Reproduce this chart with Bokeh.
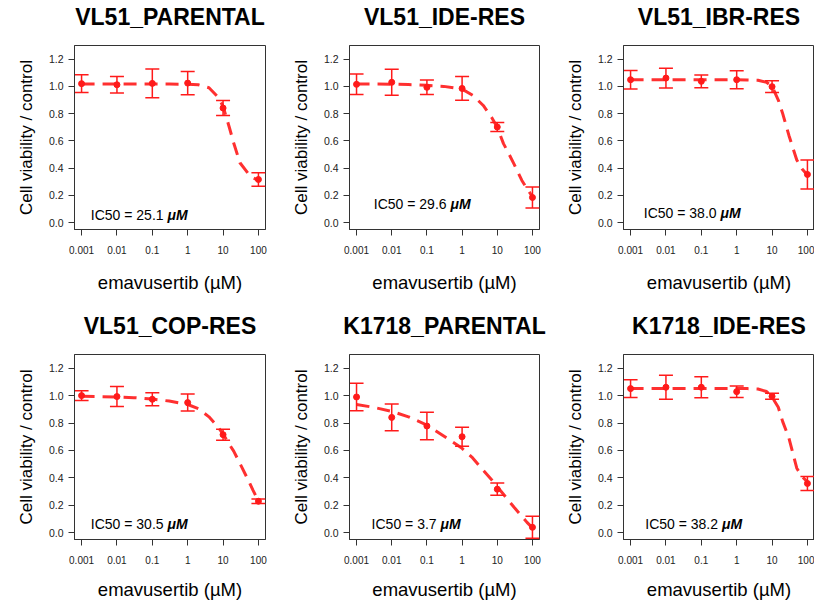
from bokeh.plotting import figure
from bokeh.layouts import column, row
from bokeh.models import (Range1d, FixedTicker, CustomJSTickFormatter, NumeralTickFormatter,
                          Whisker, TeeHead, ColumnDataSource, LogAxis)
from bokeh.core.properties import value
from bokeh.embed import file_html
from bokeh.resources import INLINE

# ---------------- data ----------------
titles = ["VL51_PARENTAL", "VL51_IDE-RES", "VL51_IBR-RES",
          "VL51_COP-RES", "K1718_PARENTAL", "K1718_IDE-RES"]
ic50_text = ["25.1", "29.6", "38.0", "30.5", "3.7", "38.2"]

doses = [0.001, 0.01, 0.1, 1, 10, 100]
dose_labels = ["0.001", "0.01", "0.1", "1", "10", "100"]
y_ticks = [0.0, 0.2, 0.4, 0.6, 0.8, 1.0, 1.2]

mean_vl51_parental = [1.020, 1.012, 1.022, 1.024, 0.841, 0.317]
err_vl51_parental  = [0.065, 0.060, 0.105, 0.085, 0.055, 0.050]
mean_vl51_ide      = [1.015, 1.030, 0.993, 0.985, 0.702, 0.185]
err_vl51_ide       = [0.075, 0.095, 0.053, 0.087, 0.033, 0.077]
mean_vl51_ibr      = [1.049, 1.061, 1.037, 1.049, 0.998, 0.354]
err_vl51_ibr       = [0.068, 0.073, 0.047, 0.066, 0.043, 0.106]
mean_vl51_cop      = [1.000, 0.993, 0.973, 0.949, 0.715, 0.229]
err_vl51_cop       = [0.035, 0.073, 0.047, 0.062, 0.040, 0.016]
mean_k1718_parental = [0.990, 0.841, 0.778, 0.700, 0.317, 0.039]
err_k1718_parental  = [0.100, 0.098, 0.100, 0.070, 0.045, 0.080]
mean_k1718_ide     = [1.051, 1.061, 1.061, 1.029, 0.995, 0.359]
err_k1718_ide      = [0.065, 0.088, 0.077, 0.042, 0.022, 0.051]

# fitted dose-response curves
fit_x = [0.001, 0.003, 0.01, 0.03, 0.1, 0.3, 1, 2, 4, 7, 10, 15, 20, 30, 50, 70, 100]
fit_vl51_parental = [1.017, 1.017, 1.017, 1.017, 1.017, 1.017, 1.016, 1.012, 0.990, 0.925,
                     0.855, 0.700, 0.585, 0.440, 0.365, 0.330, 0.310]
fit_vl51_ide = [1.017, 1.017, 1.016, 1.013, 1.008, 1.000, 0.980, 0.935, 0.860, 0.770,
                0.700, 0.580, 0.520, 0.430, 0.310, 0.250, 0.190]
fit_vl51_ibr = [1.048, 1.048, 1.048, 1.048, 1.048, 1.048, 1.048, 1.047, 1.045, 1.030,
                1.000, 0.900, 0.800, 0.640, 0.460, 0.395, 0.350]
fit_vl51_cop = [0.995, 0.993, 0.990, 0.985, 0.975, 0.960, 0.935, 0.905, 0.845, 0.775,
                0.720, 0.645, 0.595, 0.505, 0.390, 0.310, 0.230]
fit_k1718_parental = [0.935, 0.915, 0.885, 0.845, 0.785, 0.705, 0.615, 0.545, 0.455, 0.385,
                      0.335, 0.280, 0.240, 0.185, 0.120, 0.075, 0.035]
fit_k1718_ide = [1.052, 1.052, 1.052, 1.052, 1.052, 1.052, 1.052, 1.051, 1.048, 1.030,
                 0.990, 0.915, 0.810, 0.690, 0.470, 0.410, 0.370]

means = [mean_vl51_parental, mean_vl51_ide, mean_vl51_ibr,
         mean_vl51_cop, mean_k1718_parental, mean_k1718_ide]
errs = [err_vl51_parental, err_vl51_ide, err_vl51_ibr,
        err_vl51_cop, err_k1718_parental, err_k1718_ide]
fits = [fit_vl51_parental, fit_vl51_ide, fit_vl51_ibr,
        fit_vl51_cop, fit_k1718_parental, fit_k1718_ide]

# ---------------- layout / style (not data) ----------------
FONT = "Liberation Sans"
RED = "#ff1a1a"
AX = "#333333"
X_LO, X_HI = 10 ** -3.2, 10 ** 2.2
Y_LO, Y_HI = -0.05, 1.30
label_anchor = [(0.27, 0.056), (0.47, 0.137), (0.35, 0.069),
                (0.27, 0.061), (0.245, 0.066), (0.385, 0.061)]

col_w = [275, 274, 265]
col_left = [74, 74, 74]
col_right = [10, 10, 0]
row_h = [300, 305]
row_top = [45, 54]
row_bottom = [71, 66]


def make_panel(i):
    r, c = divmod(i, 3)
    p = figure(width=col_w[c], height=row_h[r], x_axis_type="log",
               x_range=Range1d(X_LO, X_HI), y_range=Range1d(Y_LO, Y_HI),
               output_backend="svg", toolbar_location=None,
               min_border_left=col_left[c], min_border_right=col_right[c],
               min_border_top=row_top[r], min_border_bottom=row_bottom[r])
    xa = p.below[0]
    ya = p.left[0]

    p.grid.visible = False
    p.outline_line_color = AX
    p.outline_line_width = 1
    p.background_fill_color = "white"
    p.border_fill_color = "white"

    for ax in (xa, ya):
        ax.axis_line_color = AX
        ax.major_tick_line_color = AX
        ax.minor_tick_line_color = None
        ax.major_tick_out = 6
        ax.major_tick_in = 0
        ax.major_label_text_font = FONT
        ax.major_label_text_color = "#222222"
        ax.axis_label_text_font = FONT
        ax.axis_label_text_font_style = "normal"
        ax.axis_label_text_color = "black"

    xa.ticker = FixedTicker(ticks=doses)
    xa.formatter = CustomJSTickFormatter(args=dict(vals=doses, labels=dose_labels), code="""
        for (let k = 0; k < vals.length; k++) {
            if (Math.abs(vals[k] - tick) <= 1e-6 * vals[k]) return labels[k];
        }
        return "";
    """)
    xa.major_label_text_font_size = "10px"
    xa.major_label_standoff = 10
    xa.axis_label = "emavusertib (\u00b5M)"
    xa.axis_label_text_font_size = "18.5px"
    xa.axis_label_standoff = 15 if r == 0 else 12

    ya.ticker = FixedTicker(ticks=y_ticks)
    ya.formatter = NumeralTickFormatter(format="0.0")
    ya.major_label_orientation = "horizontal"
    ya.major_label_text_font_size = "10.5px"
    ya.major_label_standoff = 5
    ya.axis_label = "Cell viability / control"
    ya.axis_label_text_font_size = "17px"
    ya.axis_label_standoff = 10

    # panel title: an empty axis above the box whose label is the title
    top = LogAxis(ticker=FixedTicker(ticks=[]), axis_label=titles[i],
                  axis_line_color=None, major_tick_line_color=None,
                  minor_tick_line_color=None, major_label_text_font_size="0px",
                  major_tick_out=0, major_tick_in=0, major_label_standoff=0,
                  axis_label_text_font=FONT, axis_label_text_font_size="23px",
                  axis_label_text_font_style="bold", axis_label_text_color="black",
                  axis_label_standoff=16)
    p.add_layout(top, "above")

    # fitted curve
    p.line(fit_x, fits[i], line_color=RED, line_width=3, line_dash="13 8", line_alpha=0.9)

    # points with error bars
    lo = [m - e for m, e in zip(means[i], errs[i])]
    hi = [m + e for m, e in zip(means[i], errs[i])]
    src = ColumnDataSource(dict(x=doses, y=means[i], lo=lo, hi=hi))
    w = Whisker(base="x", upper="hi", lower="lo", source=src, line_color=RED, line_width=1.5,
                upper_head=TeeHead(size=14, line_color=RED, line_width=1.5),
                lower_head=TeeHead(size=14, line_color=RED, line_width=1.5))
    p.add_layout(w)
    p.scatter("x", "y", source=src, size=6, color=RED)

    # IC50 annotation
    ax_, ay_ = label_anchor[i]
    p.text([ax_], [ay_], text=["IC50 = " + ic50_text[i]], text_font=value(FONT),
           text_font_size="14px", text_align="right", text_baseline="alphabetic",
           text_color="black", x_offset=-4)
    p.text([ax_], [ay_], text=["\u03bcM"], text_font=value(FONT),
           text_font_size="14px", text_font_style="bold italic", text_align="left",
           text_baseline="alphabetic", text_color="black")
    return p


panels = [make_panel(i) for i in range(6)]
layout = column(row(*panels[:3]), row(*panels[3:]))

open("out.html", "w").write(file_html(layout, INLINE))
